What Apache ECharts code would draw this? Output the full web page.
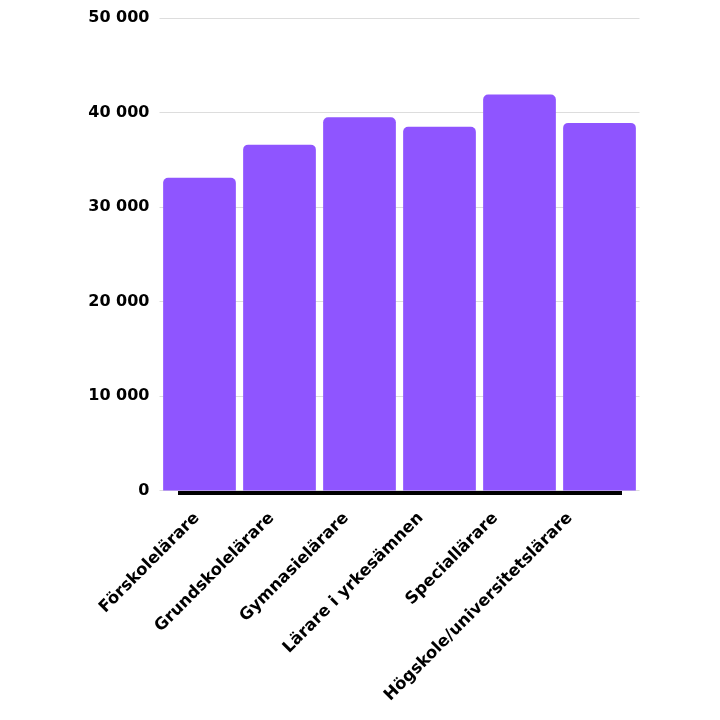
<!DOCTYPE html>
<html><head><meta charset="utf-8">
<script src="https://cdn.jsdelivr.net/npm/echarts@6/dist/echarts.min.js"></script>
<style>html,body{margin:0;padding:0;background:#fff}#c{width:720px;height:720px}</style>
</head><body><div id="c"></div>
<script>
const categories = ["Förskolelärare","Grundskolelärare","Gymnasielärare","Lärare i yrkesämnen","Speciallärare","Högskole/universitetslärare"];
const values = [33100, 36600, 39500, 38500, 41900, 38900];
const yTicks = [0, 10000, 20000, 30000, 40000, 50000];

const chart = echarts.init(document.getElementById('c'));
const fontFam = '"DejaVu Sans", sans-serif';
chart.setOption({
  animation: false,
  grid: [
    {left: 159.5, right: 80.5, top: 18, bottom: 229.5},
    {left: 159.7, right: 112.7, top: 18, bottom: 229.5}
  ],
  xAxis: [{
    type: 'category', data: categories, gridIndex: 0,
    axisLine: {show: false}, axisTick: {show: false}, axisLabel: {show: false}
  }, {
    type: 'category', data: categories, gridIndex: 1,
    axisLine: {show: false}, axisTick: {show: false},
    axisLabel: {rotate: 45, interval: 0, color: '#000', fontFamily: fontFam, fontWeight: 'bold', fontSize: 16.5, margin: 25}
  }],
  yAxis: [{
    type: 'value', gridIndex: 0, min: yTicks[0], max: yTicks[yTicks.length-1], interval: 10000,
    axisLine: {show: false}, axisTick: {show: false},
    splitLine: {lineStyle: {color: '#dddddd', width: 1}},
    axisLabel: {color: '#000', fontFamily: fontFam, fontWeight: 'bold', fontSize: 16, margin: 10,
      formatter: v => String(v).replace(/\B(?=(\d{3})+(?!\d))/g, ' ')}
  }, {
    type: 'value', gridIndex: 1, min: 0, max: 50000, interval: 10000, show: false
  }],
  series: [{
    type: 'bar', data: values, barCategoryGap: '9.1%', xAxisIndex: 0, yAxisIndex: 0,
    itemStyle: {color: '#8f55ff', borderRadius: [5,5,0,0]}
  }],
  graphic: [{
    type: 'line', shape: {x1: 178, y1: 493, x2: 622, y2: 493},
    style: {stroke: '#000', lineWidth: 4}, z: 10
  }]
});
</script></body></html>
